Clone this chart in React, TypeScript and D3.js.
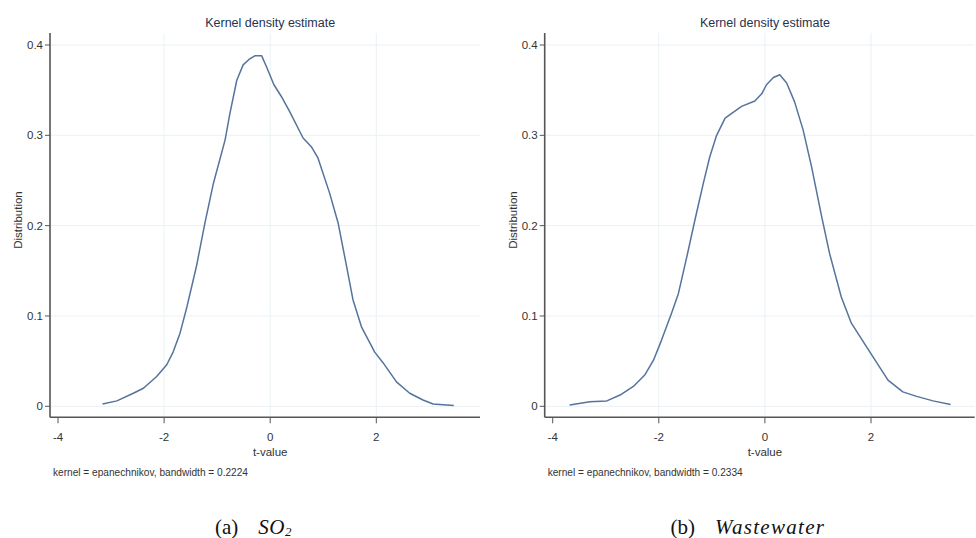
import React from "react";
import * as d3 from "d3";

// t-values and densities
const so2T = [-3.16, -2.89, -2.58, -2.39, -2.14, -1.95, -1.83, -1.7, -1.57, -1.39, -1.23, -1.07, -0.85, -0.76, -0.63, -0.51, -0.4, -0.29, -0.16, -0.07, 0.07, 0.21, 0.37, 0.62, 0.78, 0.9, 1.12, 1.28, 1.44, 1.56, 1.72, 1.97, 2.13, 2.38, 2.63, 2.88, 3.07, 3.46];
const so2D = [0.0025, 0.006, 0.0144, 0.02, 0.033, 0.046, 0.06, 0.081, 0.11, 0.155, 0.203, 0.247, 0.295, 0.324, 0.361, 0.378, 0.384, 0.388, 0.388, 0.376, 0.356, 0.343, 0.326, 0.297, 0.287, 0.275, 0.236, 0.203, 0.155, 0.118, 0.088, 0.06, 0.048, 0.027, 0.0144, 0.007, 0.0025, 0.001];

const wwT = [-3.68, -3.3, -2.98, -2.73, -2.48, -2.26, -2.1, -1.95, -1.76, -1.63, -1.47, -1.32, -1.16, -1.04, -0.91, -0.75, -0.44, -0.19, -0.06, 0.03, 0.16, 0.28, 0.41, 0.56, 0.72, 0.88, 1.07, 1.22, 1.44, 1.63, 1.98, 2.32, 2.6, 2.86, 3.17, 3.5];
const wwD = [0.0015, 0.005, 0.006, 0.0125, 0.022, 0.035, 0.051, 0.073, 0.103, 0.125, 0.166, 0.206, 0.247, 0.276, 0.3, 0.319, 0.332, 0.338, 0.346, 0.356, 0.364, 0.367, 0.358, 0.337, 0.306, 0.265, 0.21, 0.169, 0.121, 0.092, 0.06, 0.029, 0.016, 0.011, 0.006, 0.002];

const xTicks = [-4, -2, 0, 2];
const xGrid = [-2, 0, 2];
const yTicks = [0, 0.1, 0.2, 0.3, 0.4];

const font = "'Liberation Sans Narrow', 'Liberation Sans', Arial, sans-serif";
const serif = "'Liberation Serif', 'Times New Roman', serif";
const lineColor = "#55739b";
const gridColor = "#eaf1f4";
const axisColor = "#555";
const textColor = "#333";

function Panel({ ox, t, d, bandwidth, label, name, sub }) {
  const x = d3.scaleLinear().domain([-4, 2]).range([ox + 8, ox + 326.3]);
  const y = d3.scaleLinear().domain([0, 0.4]).range([406.3, 45]);
  const top = 33;
  const bottom = 417.3;
  const right = ox + 430;

  const pts = t.map((v, i) => [v, d[i]]);
  const line = d3
    .line()
    .x((p) => x(p[0]))
    .y((p) => y(p[1]));

  const midX = x(0);

  return (
    <g>
      {/* grid */}
      {yTicks.map((v) => (
        <line key={"gy" + v} x1={ox} x2={right} y1={y(v)} y2={y(v)} stroke={gridColor} strokeWidth={1} />
      ))}
      {xGrid.map((v) => (
        <line key={"gx" + v} x1={x(v)} x2={x(v)} y1={top} y2={bottom} stroke={gridColor} strokeWidth={1} />
      ))}

      {/* density curve */}
      <path d={line(pts)} fill="none" stroke={lineColor} strokeWidth={1.5} strokeLinejoin="round" />

      {/* axes */}
      <line x1={ox} x2={ox} y1={top} y2={bottom} stroke={axisColor} strokeWidth={1.6} />
      <line x1={ox} x2={right} y1={bottom} y2={bottom} stroke={axisColor} strokeWidth={1.6} />
      {yTicks.map((v) => (
        <g key={"ty" + v}>
          <line x1={ox - 5} x2={ox} y1={y(v)} y2={y(v)} stroke={axisColor} strokeWidth={1} />
          <text x={ox - 7} y={y(v)} dy="0.35em" textAnchor="end" fontSize={11.5} fill={textColor} fontFamily={font}>
            {v === 0 ? "0" : d3.format(".1f")(v)}
          </text>
        </g>
      ))}
      {xTicks.map((v) => (
        <g key={"tx" + v}>
          <line x1={x(v)} x2={x(v)} y1={bottom} y2={bottom + 6} stroke={axisColor} strokeWidth={1} />
          <text x={x(v)} y={436.7} dy="0.35em" textAnchor="middle" fontSize={11.5} fill={textColor} fontFamily={font}>
            {v}
          </text>
        </g>
      ))}

      {/* titles */}
      <text x={midX} y={22.7} dy="0.35em" textAnchor="middle" fontSize={12.5} fill="#26334f" fontFamily={font}>
        Kernel density estimate
      </text>
      <text
        transform={`translate(${ox - 32},220) rotate(-90)`}
        textAnchor="middle"
        dy="0.35em"
        fontSize={11.5}
        fill={textColor}
        fontFamily={font}
      >
        Distribution
      </text>
      <text x={midX} y={451.7} dy="0.35em" textAnchor="middle" fontSize={11.5} fill={textColor} fontFamily={font}>
        t-value
      </text>
      <text
        x={ox + 3}
        y={471.7}
        dy="0.35em"
        fontSize={11.5}
        textLength={195}
        lengthAdjust="spacingAndGlyphs"
        fill={textColor}
        fontFamily={font}
      >
        {`kernel = epanechnikov, bandwidth = ${bandwidth}`}
      </text>

      {/* caption */}
      <text x={midX - 17} y={528} dy="0.3em" textAnchor="middle" fontSize={21} fill="#111" fontFamily={serif}>
        {label}
        <tspan dx={20} fontStyle="italic" letterSpacing={name.length > 4 ? 1.3 : 0.5}>
          {name}
        </tspan>
        {sub ? (
          <tspan fontStyle="italic" fontSize={13} dy={2}>
            {sub}
          </tspan>
        ) : null}
      </text>
    </g>
  );
}

export default function App() {
  return (
    <svg width={976} height={538} style={{ position: "absolute", left: 0, top: 0, background: "#fff" }}>
      <rect width={976} height={538} fill="#fff" />
      <Panel ox={50} t={so2T} d={so2D} bandwidth="0.2224" label="(a)" name="SO" sub="2" />
      <Panel ox={544.7} t={wwT} d={wwD} bandwidth="0.2334" label="(b)" name="Wastewater" sub="" />
    </svg>
  );
}
